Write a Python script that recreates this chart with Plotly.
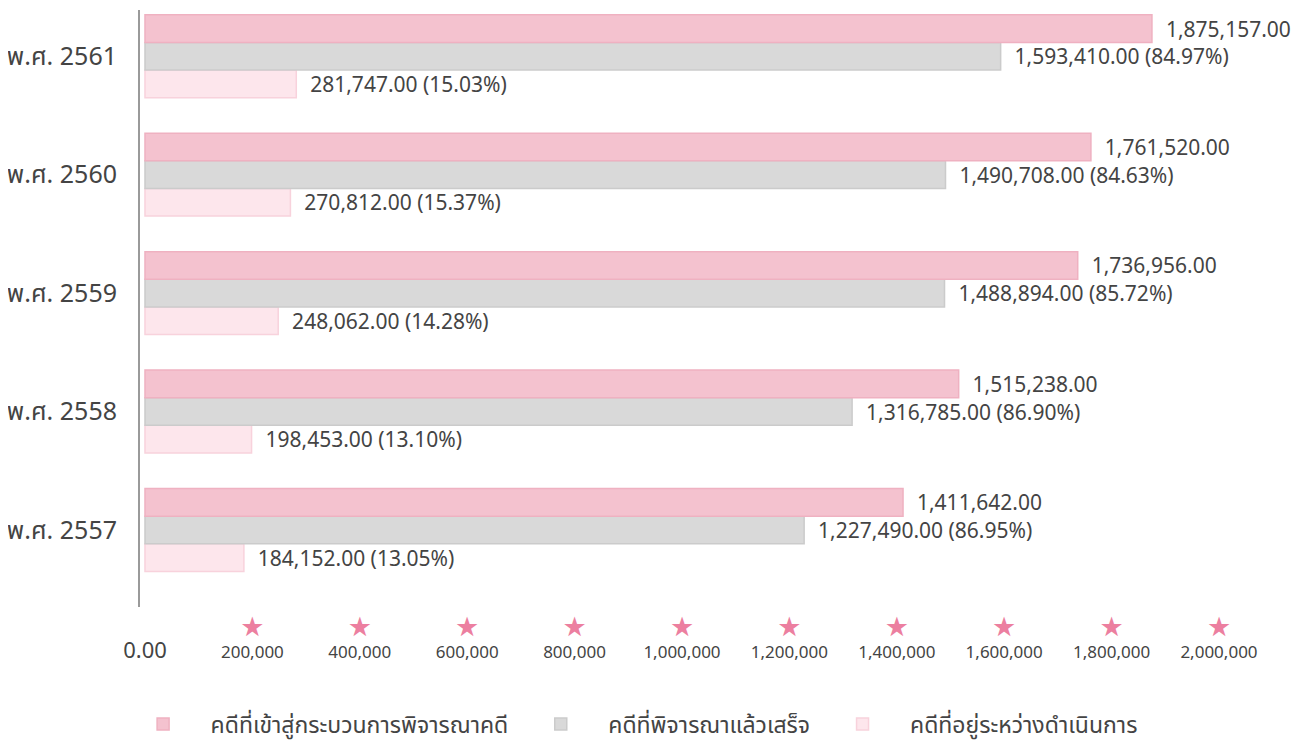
import plotly.graph_objects as go

# ---------------------------------------------------------------------------
# Data
# ---------------------------------------------------------------------------
years = ["พ.ศ. 2557", "พ.ศ. 2558", "พ.ศ. 2559", "พ.ศ. 2560", "พ.ศ. 2561"]
cases_in = [1411642, 1515238, 1736956, 1761520, 1875157]
cases_done = [1227490, 1316785, 1488894, 1490708, 1593410]
cases_pending = [184152, 198453, 248062, 270812, 281747]

series_names = [
    "คดีที่เข้าสู่กระบวนการพิจารณาคดี",
    "คดีที่พิจารณาแล้วเสร็จ",
    "คดีที่อยู่ระหว่างดำเนินการ",
]

tick_vals = [0, 200000, 400000, 600000, 800000, 1000000,
             1200000, 1400000, 1600000, 1800000, 2000000]

FONT = "Noto Sans, Noto Sans Thai, DejaVu Sans, sans-serif"
TEXT_COLOR = "#444444"
STAR_COLOR = "#EC7FA0"


def pct_labels(values, totals):
    return [f"  {v:,.2f} ({v / t * 100:.2f}%)" for v, t in zip(values, totals)]


tick_text = ["<span style='font-size:6px'> </span><br>"
             "<span style='font-size:22px'>0.00</span>"] + [
    f"<span style='font-size:27px;color:{STAR_COLOR}'>★</span><br>{v:,}"
    for v in tick_vals[1:]
]

fig = go.Figure()

# horizontal grouped bars: the first trace sits at the bottom of each group
fig.add_trace(go.Bar(
    y=years, x=cases_pending, orientation="h", name=series_names[2],
    marker=dict(color="#FDE6EC", line=dict(color="#F8D2DC", width=1.5)),
    text=pct_labels(cases_pending, cases_in), textposition="outside",
    legendrank=3,
))
fig.add_trace(go.Bar(
    y=years, x=cases_done, orientation="h", name=series_names[1],
    marker=dict(color="#D9D9D9", line=dict(color="#CBCBCB", width=1.5)),
    text=pct_labels(cases_done, cases_in), textposition="outside",
    legendrank=2,
))
fig.add_trace(go.Bar(
    y=years, x=cases_in, orientation="h", name=series_names[0],
    marker=dict(color="#F4C2CF", line=dict(color="#EFB1C1", width=1.5)),
    text=[f"  {v:,.2f}" for v in cases_in], textposition="outside",
    legendrank=1,
))

fig.update_traces(
    textfont=dict(size=21, color=TEXT_COLOR, family=FONT),
    cliponaxis=False, constraintext="none",
)

# the page body adds an 8px margin, so the figure is 8px smaller on each axis
fig.update_layout(
    barmode="group",
    bargap=0.3,
    bargroupgap=0,
    width=1301, height=735,
    margin=dict(l=132, r=10, t=2, b=136, autoexpand=False),
    paper_bgcolor="white",
    plot_bgcolor="white",
    font=dict(family=FONT, color=TEXT_COLOR),
    xaxis=dict(
        range=[-9300, 2149000],
        tickvals=tick_vals, ticktext=tick_text,
        tickfont=dict(size=17, color=TEXT_COLOR),
        showgrid=False, zeroline=False, showline=False,
        ticks="", ticklabelstandoff=11, automargin=False,
    ),
    yaxis=dict(
        type="category", categoryorder="array", categoryarray=years,
        range=[-0.65, 4.39],
        tickfont=dict(size=25, color=TEXT_COLOR),
        showgrid=False, zeroline=False,
        showline=True, linecolor="#9A9A9A", linewidth=2,
        ticks="", ticklabelstandoff=16, automargin=False,
    ),
    legend=dict(
        orientation="h", x=0.422, xanchor="center", y=-0.196, yanchor="middle",
        font=dict(size=23, color=TEXT_COLOR), itemwidth=85,
        traceorder="normal",
    ),
)

fig.write_html("out.html")
